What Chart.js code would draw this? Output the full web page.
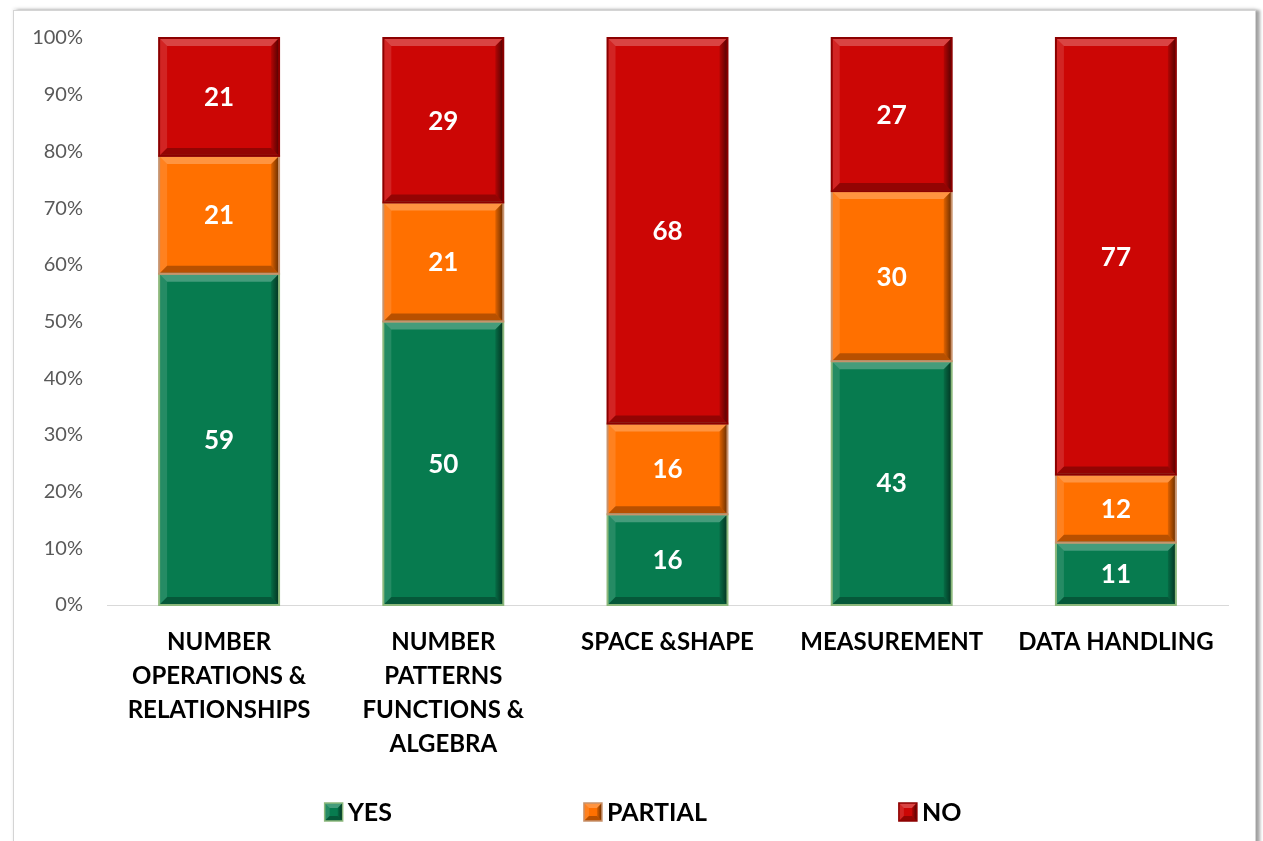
<!DOCTYPE html>
<html>
<head>
<meta charset="utf-8">
<script src="https://cdn.jsdelivr.net/npm/chart.js@4/dist/chart.umd.min.js"></script>
<style>
  html, body { margin: 0; padding: 0; background: #ffffff; width: 1263px; height: 841px; overflow: hidden; }
  #frame { position: absolute; left: 13px; top: 10px; width: 1241px; height: 840px; background: #fff;
           border: 1px solid #d4d4d4; box-shadow: 4px 0 3px rgba(0,0,0,0.35), 0 -2px 3px rgba(0,0,0,0.08); }
  #wrap { position: absolute; left: 0; top: 0; width: 1263px; height: 841px; }
</style>
</head>
<body>
<div id="frame"></div>
<div id="wrap"><canvas id="c" width="1263" height="841"></canvas></div>
<script>
// ---- data ----
const categories = [
  ["NUMBER", "OPERATIONS &", "RELATIONSHIPS"],
  ["NUMBER", "PATTERNS", "FUNCTIONS &", "ALGEBRA"],
  ["SPACE &SHAPE"],
  ["MEASUREMENT"],
  ["DATA HANDLING"]
];
const seriesNames = ["YES", "PARTIAL", "NO"];
const yesValues = [59, 50, 16, 43, 11];
const partialValues = [21, 21, 16, 30, 12];
const noValues = [21, 29, 68, 27, 77];
const yTickLabels = ["0%", "10%", "20%", "30%", "40%", "50%", "60%", "70%", "80%", "90%", "100%"];

// ---- styles ----
const fills = ["#077B4F", "#FF7000", "#CC0605"];
const borders = ["#8cb87c", "#c8926c", "#8c0000"];
const FONT = "Lato, 'Open Sans', sans-serif";

const rawSeries = [yesValues, partialValues, noValues];
const totals = categories.map((_, i) => rawSeries.reduce((s, arr) => s + arr[i], 0));
const pct = arr => arr.map((v, i) => v / totals[i] * 100);

function bevel(ctx, l, t, r, b, s) {
  const h = b - t;
  s = Math.min(s, h / 2, (r - l) / 2);
  if (s <= 0) return;
  ctx.save();
  ctx.fillStyle = 'rgba(255,255,255,0.25)';
  ctx.beginPath(); ctx.moveTo(l, t); ctx.lineTo(r, t); ctx.lineTo(r - s, t + s); ctx.lineTo(l + s, t + s); ctx.closePath(); ctx.fill();
  ctx.fillStyle = 'rgba(255,255,255,0.12)';
  ctx.beginPath(); ctx.moveTo(l, t); ctx.lineTo(l + s, t + s); ctx.lineTo(l + s, b - s); ctx.lineTo(l, b); ctx.closePath(); ctx.fill();
  const g = ctx.createLinearGradient(r - s, 0, r, 0);
  g.addColorStop(0, 'rgba(0,0,0,0.12)'); g.addColorStop(1, 'rgba(0,0,0,0.6)');
  ctx.fillStyle = g;
  ctx.beginPath(); ctx.moveTo(r, t); ctx.lineTo(r, b); ctx.lineTo(r - s, b - s); ctx.lineTo(r - s, t + s); ctx.closePath(); ctx.fill();
  ctx.fillStyle = 'rgba(0,0,0,0.28)';
  ctx.beginPath(); ctx.moveTo(l, b); ctx.lineTo(r, b); ctx.lineTo(r - s, b - s); ctx.lineTo(l + s, b - s); ctx.closePath(); ctx.fill();
  ctx.restore();
}

const barDecor = {
  id: 'barDecor',
  afterDatasetsDraw(chart) {
    const ctx = chart.ctx;
    chart.data.datasets.forEach((ds, di) => {
      const meta = chart.getDatasetMeta(di);
      meta.data.forEach((el, i) => {
        const p = el.getProps(['x', 'y', 'base', 'width'], true);
        const l = p.x - p.width / 2, r = p.x + p.width / 2;
        const t = Math.min(p.y, p.base), b = Math.max(p.y, p.base);
        bevel(ctx, l, t, r, b, 8);
        ctx.save();
        ctx.strokeStyle = borders[di]; ctx.lineWidth = 2;
        ctx.strokeRect(l, t, r - l, b - t);
        ctx.restore();
        ctx.save();
        ctx.fillStyle = '#ffffff';
        ctx.font = "bold 26px " + FONT;
        ctx.textAlign = 'center'; ctx.textBaseline = 'middle';
        ctx.fillText(String(rawSeries[di][i]), p.x, (t + b) / 2 + 1);
        ctx.restore();
      });
    });
  }
};

const customLegend = {
  id: 'customLegend',
  afterDraw(chart) {
    const ctx = chart.ctx;
    ctx.save();
    ctx.font = "bold 25px " + FONT;
    ctx.textBaseline = 'middle'; ctx.textAlign = 'left';
    const box = 18, gap = 5, spacing = 192;
    const widths = seriesNames.map(n => box + gap + ctx.measureText(n).width);
    const total = widths.reduce((a, b) => a + b, 0) + spacing * (seriesNames.length - 1);
    let x = 643 - total / 2;
    const y = 812;
    seriesNames.forEach((n, i) => {
      ctx.fillStyle = fills[i];
      ctx.fillRect(x, y - box / 2, box, box);
      bevel(ctx, x, y - box / 2, x + box, y + box / 2, 5);
      ctx.strokeStyle = borders[i]; ctx.lineWidth = 1.5;
      ctx.strokeRect(x, y - box / 2, box, box);
      ctx.fillStyle = '#000000';
      ctx.fillText(n, x + box + gap, y + 1);
      x += widths[i] + spacing;
    });
    ctx.restore();
  }
};

new Chart(document.getElementById('c'), {
  type: 'bar',
  data: {
    labels: categories,
    datasets: seriesNames.map((n, i) => ({
      label: n,
      data: pct(rawSeries[i]),
      backgroundColor: fills[i],
      borderWidth: 0,
      categoryPercentage: 1,
      barPercentage: 0.535
    }))
  },
  options: {
    responsive: false,
    animation: false,
    devicePixelRatio: 1,
    layout: { padding: { left: 13, right: 35, top: 38, bottom: 60 } },
    plugins: { legend: { display: false }, tooltip: { enabled: false } },
    scales: {
      x: {
        stacked: true,
        grid: { display: false, drawTicks: false },
        border: { display: true, color: '#d9d9d9', width: 1 },
        ticks: { color: '#000000', font: { family: FONT, size: 24, weight: 'bold', lineHeight: 1.42 }, padding: 20, maxRotation: 0, autoSkip: false },
        afterFit(scale) { scale.height = 176; }
      },
      y: {
        stacked: true,
        min: 0, max: 100,
        grid: { display: false, drawTicks: false },
        border: { display: false },
        ticks: {
          stepSize: 10, padding: 24, color: '#595959',
          font: { family: FONT, size: 20 },
          callback: (v, idx) => yTickLabels[idx]
        },
        afterFit(scale) { scale.width = 94; }
      }
    }
  },
  plugins: [barDecor, customLegend]
});
</script>
</body>
</html>
